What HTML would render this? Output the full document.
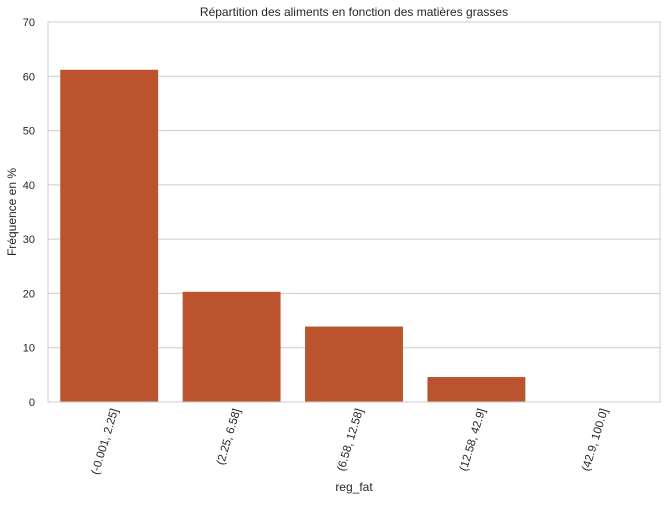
<!DOCTYPE html>
<html><head><meta charset="utf-8"><style>
body{margin:0;background:#fff;font-family:"Liberation Sans",sans-serif;}
svg text{font-family:"Liberation Sans",sans-serif;fill:#262626;}
</style></head><body>
<svg id="chart" width="667" height="501">
<text x="354" y="16" text-anchor="middle" font-size="12">Répartition des aliments en fonction des matières grasses</text>
<g id="grid"></g><g id="bars"></g><g id="xt"></g>
<rect x="48" y="22" width="612" height="380" fill="none" stroke="#cccccc" stroke-width="1"/>
<text x="354" y="491" text-anchor="middle" font-size="12">reg_fat</text>
<text transform="translate(16,212) rotate(-90)" text-anchor="middle" font-size="12">Fréquence en %</text>
</svg>
<script>
const categories=["(-0.001, 2.25]","(2.25, 6.58]","(6.58, 12.58]","(12.58, 42.9]","(42.9, 100.0]"];
const values=[61.2,20.3,13.9,4.6,0.05];
const yTicks=[0,10,20,30,40,50,60,70];
const L=48,R=660,T=22,B=402,yMax=70;
const ns="http://www.w3.org/2000/svg";
const y=v=>B-(v/yMax)*(B-T);
const band=(R-L)/categories.length;
const x=i=>L+band*i;
const g=document.getElementById('grid'),bg=document.getElementById('bars'),xt=document.getElementById('xt');
yTicks.forEach(t=>{
 const l=document.createElementNS(ns,'line');
 
 
 l.setAttribute('x1',L);l.setAttribute('x2',R);l.setAttribute('y1',y(t));l.setAttribute('y2',y(t));
 l.setAttribute('stroke','#cccccc');g.appendChild(l);
 const tx=document.createElementNS(ns,'text');
 
 
 tx.setAttribute('x',L-13);tx.setAttribute('y',y(t)+4);tx.setAttribute('text-anchor','end');tx.setAttribute('font-size','11');
 tx.textContent=t;g.appendChild(tx);
});
categories.forEach((c,i)=>{
 const r=document.createElementNS(ns,'rect');
 
 
 const w=band*0.8;
 r.setAttribute('x',x(i)+band*0.1);r.setAttribute('width',w);
 r.setAttribute('y',y(values[i]));r.setAttribute('height',B-y(values[i]));
 r.setAttribute('fill','#bb542e');bg.appendChild(r);
 const tx=document.createElementNS(ns,'text');
 
 
 const cx=x(i)+band/2+9;
 tx.setAttribute('transform','translate('+cx+',410) rotate(-73)');
 tx.setAttribute('text-anchor','end');tx.setAttribute('font-size','11.5');
 tx.textContent=c;xt.appendChild(tx);
});
</script>
</body></html>
